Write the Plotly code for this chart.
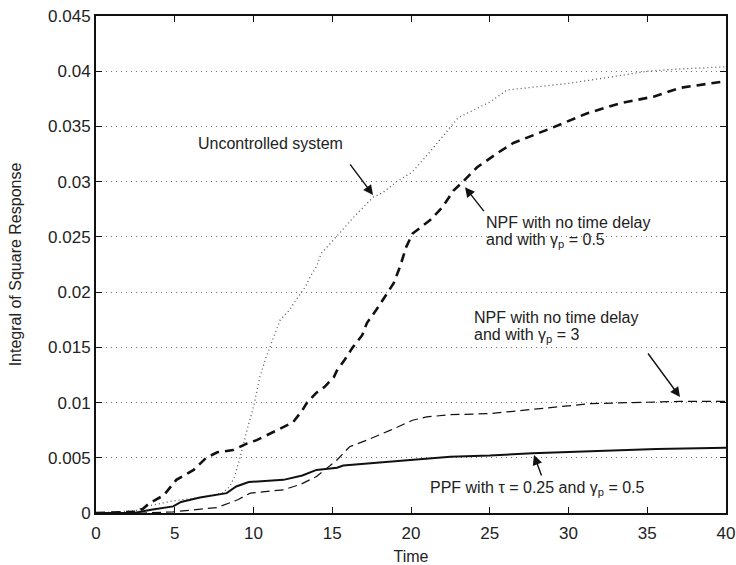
import plotly.graph_objects as go

# ---- data ----
unc_x = [0, 2.5, 3.2, 4.9, 6.6, 8.0, 8.5, 8.8, 9.1, 9.4, 9.7, 10.0, 10.4, 10.8, 11.2, 11.7, 12.3, 12.7,
         13.3, 13.6, 14.0, 14.3, 15.5, 16.5, 17.6, 18.2, 19.1, 20.1, 21.2, 22.5, 23.0, 24.0, 25.0,
         26.1, 28.0, 30.0, 32.8, 35.0, 37.0, 40.0]
unc_y = [0, 0.0002, 0.0006, 0.0011, 0.0014, 0.0018, 0.0024, 0.0033, 0.0048, 0.0065, 0.0081, 0.0096,
         0.0123, 0.0141, 0.0157, 0.0175, 0.0184, 0.0193, 0.0205, 0.0214, 0.0223, 0.0235, 0.0254,
         0.0270, 0.0286, 0.0290, 0.0300, 0.0309, 0.0327, 0.0349, 0.0358, 0.0365, 0.0372, 0.0383,
         0.0386, 0.0389, 0.0395, 0.0400, 0.0402, 0.0404]

npf05_x = [0, 2.5, 3.0, 3.4, 4.3, 5.1, 6.2, 7.0, 7.7, 8.7, 9.6, 10.2, 11.5, 12.5, 13.1, 13.4, 14.0,
           14.5, 15.1, 15.3, 15.8, 16.3, 16.9, 17.2, 17.8, 18.9, 19.3, 19.7, 20.1, 21.2, 22.0, 22.7,
           23.3, 24.2, 25.5, 26.5, 29.0, 31.2, 33.3, 35.4, 37.1, 39.5, 40.0]
npf05_y = [0, 0.0001, 0.0004, 0.0009, 0.0016, 0.0030, 0.0039, 0.0050, 0.0055, 0.0057, 0.0063, 0.0066,
           0.0075, 0.0082, 0.0093, 0.0100, 0.0109, 0.0114, 0.0123, 0.0129, 0.0139, 0.0150, 0.0161,
           0.0172, 0.0184, 0.0208, 0.0223, 0.0241, 0.0253, 0.0265, 0.0277, 0.0292, 0.0300, 0.0313,
           0.0326, 0.0335, 0.0349, 0.0362, 0.0371, 0.0377, 0.0385, 0.0390, 0.0391]

npf3_x = [0, 3.0, 4.9, 7.7, 9.0, 9.8, 11.9, 13.0, 14.0, 15.3, 16.1, 17.2, 18.7, 20.1, 21.0, 22.5,
          25.0, 28.0, 31.4, 34.0, 37.1, 40.0]
npf3_y = [0, 0, 0.0001, 0.0005, 0.0012, 0.0018, 0.0021, 0.0026, 0.0033, 0.0048, 0.0060, 0.0066,
          0.0075, 0.0084, 0.0087, 0.0089, 0.0090, 0.0094, 0.0099, 0.0100, 0.0101, 0.0101]

ppf_x = [0, 2.4, 3.5, 4.3, 4.9, 5.4, 6.6, 8.3, 8.9, 9.7, 11.9, 13.1, 14.0, 15.3, 15.7, 18.2, 22.5,
         25.0, 27.7, 31.4, 35.6, 40.0]
ppf_y = [0, 0, 0.0003, 0.0005, 0.0006, 0.0010, 0.0014, 0.0018, 0.0024, 0.0028, 0.0030, 0.0034,
         0.0039, 0.0041, 0.0043, 0.0046, 0.0051, 0.0052, 0.0054, 0.0056, 0.0058, 0.0059]

x_ticks = [0, 5, 10, 15, 20, 25, 30, 35, 40]
y_ticks = [0, 0.005, 0.01, 0.015, 0.02, 0.025, 0.03, 0.035, 0.04, 0.045]
y_tick_text = ["0", "0.005", "0.01", "0.015", "0.02", "0.025", "0.03", "0.035", "0.04", "0.045"]

FONT = "Liberation Sans, Arial, Helvetica, sans-serif"

fig = go.Figure()
fig.add_trace(go.Scatter(x=unc_x, y=unc_y, mode="lines",
                         line=dict(color="#555555", width=1.3, dash="1px,3px"), showlegend=False))
fig.add_trace(go.Scatter(x=npf05_x, y=npf05_y, mode="lines",
                         line=dict(color="#111111", width=2.6, dash="9px,6px"), showlegend=False))
fig.add_trace(go.Scatter(x=npf3_x, y=npf3_y, mode="lines",
                         line=dict(color="#111111", width=1.2, dash="9px,5px"), showlegend=False))
fig.add_trace(go.Scatter(x=ppf_x, y=ppf_y, mode="lines",
                         line=dict(color="#111111", width=2.0), showlegend=False))

# arrows (tip, tail) and texts
arrows = [((17.59, 0.0288), (16.06, 0.0317)),
          ((23.43, 0.0295), (24.70, 0.0272)),
          ((37.08, 0.0105), (34.98, 0.01458)),
          ((27.81, 0.00525), (28.32, 0.00326))]
for (tx, ty), (sx, sy) in arrows:
    fig.add_annotation(x=tx, y=ty, ax=sx, ay=sy, axref="x", ayref="y", xref="x", yref="y",
                       text="", showarrow=True, arrowhead=2, arrowsize=1.4, arrowwidth=1.4,
                       arrowcolor="#111111")

labels = [("Uncontrolled system", 6.41, 0.0335),
          ("NPF with no time delay", 24.70, 0.02630),
          ("and with γ<sub>p</sub> = 0.5", 24.70, 0.0247),
          ("NPF with no time delay", 23.94, 0.01770),
          ("and with γ<sub>p</sub> = 3", 23.94, 0.0161),
          ("PPF with τ = 0.25 and γ<sub>p</sub> = 0.5", 21.14, 0.0022)]
for t, lx, ly in labels:
    fig.add_annotation(x=lx, y=ly, xref="x", yref="y", text=t, showarrow=False,
                       xanchor="left", yanchor="middle", borderpad=0,
                       font=dict(family=FONT, size=16, color="#222222"))

fig.update_xaxes(range=[0, 40], tickvals=x_ticks, ticks="inside", ticklen=6, tickwidth=1.2,
                 tickcolor="#111111", showline=True, linecolor="#111111", linewidth=2, mirror="ticks",
                 showgrid=False, zeroline=False, ticklabelstandoff=4, automargin=False,
                 title=dict(text="Time", font=dict(family=FONT, size=16, color="#222222"), standoff=8),
                 tickfont=dict(family=FONT, size=17, color="#222222"))
fig.update_yaxes(range=[0, 0.045], tickvals=y_ticks, ticktext=y_tick_text, ticks="inside", ticklen=6,
                 tickwidth=1.2, tickcolor="#111111", showline=True, linecolor="#111111", linewidth=2,
                 mirror="ticks", showgrid=True, gridcolor="#777777", griddash="1px,4px", gridwidth=1,
                 zeroline=False, automargin=False,
                 title=dict(text="Integral of Square Response",
                            font=dict(family=FONT, size=16, color="#222222"), standoff=22),
                 tickfont=dict(family=FONT, size=17, color="#222222"))

fig.update_layout(width=736, height=565, margin=dict(l=96, r=10, t=16, b=52),
                  plot_bgcolor="white", paper_bgcolor="white", showlegend=False)

fig.write_html("out.html")
